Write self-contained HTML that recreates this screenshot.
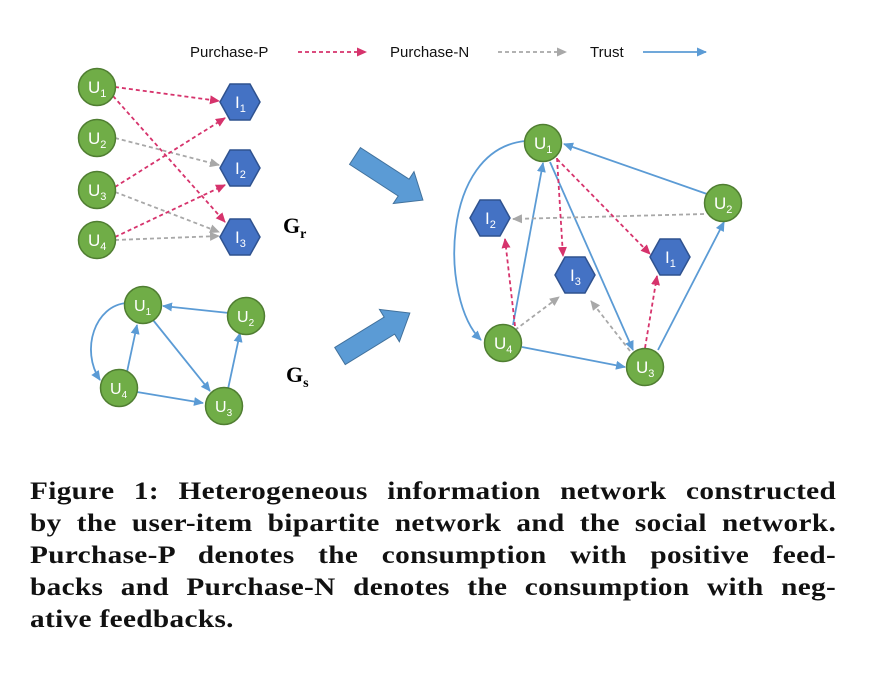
<!DOCTYPE html>
<html><head><meta charset="utf-8"><style>
body{margin:0;background:#fff;width:870px;height:684px;overflow:hidden}
svg{position:absolute;left:0;top:0}
.cap{position:absolute;left:30px;top:476px;width:689px;transform:scaleX(1.17);transform-origin:0 0;font:bold 25px/32px "Liberation Serif",serif;letter-spacing:0.3px;color:#111}
.cap div{text-align:justify;text-align-last:justify;white-space:nowrap}
.cap div.l{text-align-last:left}
</style></head><body>
<svg width="870" height="684" viewBox="0 0 870 684" font-family="Liberation Sans, sans-serif">
<defs>
<marker id="mp" markerWidth="10" markerHeight="9" refX="9" refY="4.5" orient="auto" markerUnits="userSpaceOnUse"><path d="M0,0L10,4.5L0,9z" fill="#d6336c"/></marker>
<marker id="mg" markerWidth="10" markerHeight="9" refX="9" refY="4.5" orient="auto" markerUnits="userSpaceOnUse"><path d="M0,0L10,4.5L0,9z" fill="#a8a8a8"/></marker>
<marker id="mb" markerWidth="10" markerHeight="9" refX="9" refY="4.5" orient="auto" markerUnits="userSpaceOnUse"><path d="M0,0L10,4.5L0,9z" fill="#5b9bd5"/></marker>
<g id="u"><circle r="18.5" fill="#70ad47" stroke="#507e32" stroke-width="1.5"/></g>
<g id="h"><polygon points="-20,0 -10,-18 10,-18 20,0 10,18 -10,18" fill="#4472c4" stroke="#2f528f" stroke-width="1.5"/></g>
</defs>
<g font-size="15" fill="#111">
<text x="190" y="57">Purchase-P</text>
<text x="390" y="57">Purchase-N</text>
<text x="590" y="57">Trust</text>
</g>
<line x1="298" y1="52" x2="366" y2="52" stroke="#d6336c" stroke-width="1.8" stroke-dasharray="4,3" marker-end="url(#mp)"/>
<line x1="498" y1="52" x2="566" y2="52" stroke="#a8a8a8" stroke-width="1.8" stroke-dasharray="4,3" marker-end="url(#mg)"/>
<line x1="643" y1="52" x2="706" y2="52" stroke="#5b9bd5" stroke-width="1.8" marker-end="url(#mb)"/>

<g stroke-width="1.8" stroke-dasharray="4,3" fill="none">
<line x1="115" y1="87" x2="219" y2="101" stroke="#d6336c" marker-end="url(#mp)"/>
<line x1="113" y1="96" x2="225" y2="222" stroke="#d6336c" marker-end="url(#mp)"/>
<line x1="115" y1="138" x2="219" y2="165" stroke="#a8a8a8" marker-end="url(#mg)"/>
<line x1="115" y1="187" x2="225" y2="118" stroke="#d6336c" marker-end="url(#mp)"/>
<line x1="115" y1="192" x2="219" y2="232" stroke="#a8a8a8" marker-end="url(#mg)"/>
<line x1="115" y1="237" x2="225" y2="185" stroke="#d6336c" marker-end="url(#mp)"/>
<line x1="115" y1="240" x2="219" y2="236" stroke="#a8a8a8" marker-end="url(#mg)"/>
</g>
<g fill="#fff" font-size="17">
<use href="#u" x="97" y="87"/><text x="88" y="93">U<tspan font-size="11" dy="4">1</tspan></text>
<use href="#u" x="97" y="138"/><text x="88" y="144">U<tspan font-size="11" dy="4">2</tspan></text>
<use href="#u" x="97" y="190"/><text x="88" y="196">U<tspan font-size="11" dy="4">3</tspan></text>
<use href="#u" x="97" y="240"/><text x="88" y="246">U<tspan font-size="11" dy="4">4</tspan></text>
<use href="#h" x="240" y="102"/><text x="235" y="108">I<tspan font-size="11" dy="4">1</tspan></text>
<use href="#h" x="240" y="168"/><text x="235" y="174">I<tspan font-size="11" dy="4">2</tspan></text>
<use href="#h" x="240" y="237"/><text x="235" y="243">I<tspan font-size="11" dy="4">3</tspan></text>
</g>
<text x="283" y="233" font-family="Liberation Serif, serif" font-weight="bold" font-size="22">G<tspan font-size="14" dy="5">r</tspan></text>

<g stroke="#5b9bd5" stroke-width="1.8" fill="none" marker-end="url(#mb)">
<line x1="229" y1="313" x2="163" y2="306"/>
<path d="M127,303 C95,305 80,350 100,380"/>
<line x1="127" y1="372" x2="137" y2="325"/>
<line x1="153" y1="320" x2="210" y2="391"/>
<line x1="137" y1="392" x2="203" y2="403"/>
<line x1="228" y1="389" x2="240" y2="333"/>
</g>
<g fill="#fff" font-size="16">
<use href="#u" x="143" y="305"/><text x="134" y="311">U<tspan font-size="10" dy="4">1</tspan></text>
<use href="#u" x="246" y="316"/><text x="237" y="322">U<tspan font-size="10" dy="4">2</tspan></text>
<use href="#u" x="119" y="388"/><text x="110" y="394">U<tspan font-size="10" dy="4">4</tspan></text>
<use href="#u" x="224" y="406"/><text x="215" y="412">U<tspan font-size="10" dy="4">3</tspan></text>
</g>
<text x="286" y="382" font-family="Liberation Serif, serif" font-weight="bold" font-size="22">G<tspan font-size="14" dy="5">s</tspan></text>

<g fill="#5b9bd5" stroke="#41719c" stroke-width="1">
<polygon transform="translate(355,156) rotate(33)" points="0,-10 58,-10 58,-19 81,0 58,19 58,10 0,10"/>
<polygon transform="translate(340,356) rotate(-31.6)" points="0,-10 58,-10 58,-19 82,0 58,19 58,10 0,10"/>
</g>

<g stroke="#5b9bd5" stroke-width="1.8" fill="none" marker-end="url(#mb)">
<path d="M525,141 C440,150 440,300 481,340"/>
<line x1="707" y1="194" x2="564" y2="144"/>
<line x1="513" y1="325" x2="543" y2="163"/>
<line x1="550" y1="162" x2="633" y2="350"/>
<line x1="522" y1="347" x2="625" y2="367"/>
<line x1="658" y1="350" x2="724" y2="222"/>
</g>
<g stroke-width="1.8" stroke-dasharray="4,3" fill="none">
<line x1="704" y1="214" x2="513" y2="219" stroke="#a8a8a8" marker-end="url(#mg)"/>
<line x1="557" y1="158" x2="563" y2="256" stroke="#d6336c" marker-end="url(#mp)"/>
<line x1="557" y1="159" x2="650" y2="254" stroke="#d6336c" marker-end="url(#mp)"/>
<line x1="515" y1="326" x2="505" y2="239" stroke="#d6336c" marker-end="url(#mp)"/>
<line x1="515" y1="330" x2="559" y2="297" stroke="#a8a8a8" marker-end="url(#mg)"/>
<line x1="630" y1="351" x2="591" y2="301" stroke="#a8a8a8" marker-end="url(#mg)"/>
<line x1="645" y1="348" x2="657" y2="276" stroke="#d6336c" marker-end="url(#mp)"/>
</g>
<g fill="#fff" font-size="17">
<use href="#u" x="543" y="143"/><text x="534" y="149">U<tspan font-size="11" dy="4">1</tspan></text>
<use href="#u" x="723" y="203"/><text x="714" y="209">U<tspan font-size="11" dy="4">2</tspan></text>
<use href="#u" x="503" y="343"/><text x="494" y="349">U<tspan font-size="11" dy="4">4</tspan></text>
<use href="#u" x="645" y="367"/><text x="636" y="373">U<tspan font-size="11" dy="4">3</tspan></text>
<use href="#h" x="490" y="218"/><text x="485" y="224">I<tspan font-size="11" dy="4">2</tspan></text>
<use href="#h" x="670" y="257"/><text x="665" y="263">I<tspan font-size="11" dy="4">1</tspan></text>
<use href="#h" x="575" y="275"/><text x="570" y="281">I<tspan font-size="11" dy="4">3</tspan></text>
</g>
</svg>
<div class="cap">
<div>Figure 1: Heterogeneous information network constructed</div>
<div>by the user-item bipartite network and the social network.</div>
<div>Purchase-P denotes the consumption with positive feed-</div>
<div>backs and Purchase-N denotes the consumption with neg-</div>
<div class="l">ative feedbacks.</div>
</div>
</body></html>
